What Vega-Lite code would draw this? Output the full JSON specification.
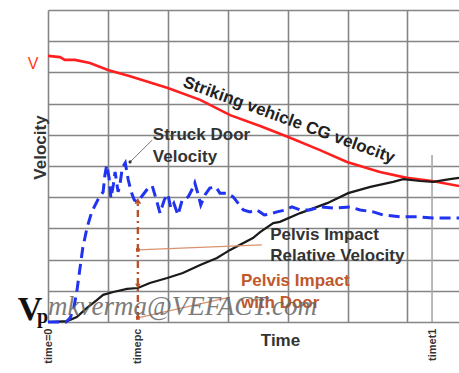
{
  "$schema": "https://vega.github.io/schema/vega-lite/v6.json",
  "width": 411,
  "height": 312,
  "autosize": {"type": "none"},
  "padding": {"left": 48, "top": 10, "right": 0, "bottom": 51},
  "background": "white",
  "config": {"view": {"stroke": null}},
  "datasets": {
    "curves": [
      {"s": "red", "t": 0, "v": 8.53}, {"s": "red", "t": 0.2, "v": 8.49}, {"s": "red", "t": 0.28, "v": 8.4}, {"s": "red", "t": 0.45, "v": 8.4}, {"s": "red", "t": 0.7, "v": 8.3}, {"s": "red", "t": 1.0, "v": 8.08}, {"s": "red", "t": 1.37, "v": 7.88}, {"s": "red", "t": 2.0, "v": 7.5}, {"s": "red", "t": 2.54, "v": 7.12}, {"s": "red", "t": 3.04, "v": 6.63}, {"s": "red", "t": 3.54, "v": 6.28}, {"s": "red", "t": 4.01, "v": 5.93}, {"s": "red", "t": 4.54, "v": 5.51}, {"s": "red", "t": 4.99, "v": 5.13}, {"s": "red", "t": 5.54, "v": 4.81}, {"s": "red", "t": 5.99, "v": 4.62}, {"s": "red", "t": 6.41, "v": 4.52}, {"s": "red", "t": 6.86, "v": 4.36},
      {"s": "black", "t": 0, "v": 0}, {"s": "black", "t": 0.32, "v": 0.03}, {"s": "black", "t": 0.48, "v": 0.16}, {"s": "black", "t": 0.65, "v": 0.45}, {"s": "black", "t": 0.82, "v": 0.71}, {"s": "black", "t": 0.92, "v": 0.87}, {"s": "black", "t": 1.09, "v": 0.96}, {"s": "black", "t": 1.32, "v": 1.06}, {"s": "black", "t": 1.5, "v": 1.09}, {"s": "black", "t": 1.7, "v": 1.25}, {"s": "black", "t": 1.99, "v": 1.41}, {"s": "black", "t": 2.25, "v": 1.57}, {"s": "black", "t": 2.54, "v": 1.83}, {"s": "black", "t": 2.82, "v": 2.05}, {"s": "black", "t": 3.04, "v": 2.31}, {"s": "black", "t": 3.42, "v": 2.69}, {"s": "black", "t": 3.54, "v": 2.88}, {"s": "black", "t": 3.76, "v": 3.17}, {"s": "black", "t": 3.87, "v": 3.21}, {"s": "black", "t": 4.21, "v": 3.49}, {"s": "black", "t": 4.66, "v": 3.81}, {"s": "black", "t": 5.01, "v": 4.13}, {"s": "black", "t": 5.38, "v": 4.33}, {"s": "black", "t": 5.76, "v": 4.49}, {"s": "black", "t": 5.93, "v": 4.58}, {"s": "black", "t": 6.21, "v": 4.52}, {"s": "black", "t": 6.43, "v": 4.49}, {"s": "black", "t": 6.71, "v": 4.58}, {"s": "black", "t": 6.86, "v": 4.62},
      {"s": "blue", "t": 0, "v": 0}, {"s": "blue", "t": 0.3, "v": 0}, {"s": "blue", "t": 0.37, "v": 0.13}, {"s": "blue", "t": 0.43, "v": 0.45}, {"s": "blue", "t": 0.48, "v": 0.96}, {"s": "blue", "t": 0.53, "v": 1.67}, {"s": "blue", "t": 0.58, "v": 2.37}, {"s": "blue", "t": 0.65, "v": 3.01}, {"s": "blue", "t": 0.73, "v": 3.53}, {"s": "blue", "t": 0.83, "v": 3.91}, {"s": "blue", "t": 0.92, "v": 4.17}, {"s": "blue", "t": 0.95, "v": 4.71}, {"s": "blue", "t": 0.98, "v": 5.03}, {"s": "blue", "t": 1.02, "v": 4.62}, {"s": "blue", "t": 1.05, "v": 3.97}, {"s": "blue", "t": 1.09, "v": 4.39}, {"s": "blue", "t": 1.12, "v": 4.81}, {"s": "blue", "t": 1.17, "v": 4.17}, {"s": "blue", "t": 1.2, "v": 4.39}, {"s": "blue", "t": 1.24, "v": 4.94}, {"s": "blue", "t": 1.29, "v": 5.1}, {"s": "blue", "t": 1.34, "v": 4.55}, {"s": "blue", "t": 1.39, "v": 4.17}, {"s": "blue", "t": 1.44, "v": 3.91}, {"s": "blue", "t": 1.49, "v": 3.85}, {"s": "blue", "t": 1.57, "v": 4.04}, {"s": "blue", "t": 1.67, "v": 4.29}, {"s": "blue", "t": 1.74, "v": 4.36}, {"s": "blue", "t": 1.8, "v": 3.97}, {"s": "blue", "t": 1.87, "v": 3.49}, {"s": "blue", "t": 1.94, "v": 3.91}, {"s": "blue", "t": 2.0, "v": 4.1}, {"s": "blue", "t": 2.05, "v": 3.65}, {"s": "blue", "t": 2.1, "v": 3.81}, {"s": "blue", "t": 2.17, "v": 3.43}, {"s": "blue", "t": 2.24, "v": 3.91}, {"s": "blue", "t": 2.34, "v": 4.01}, {"s": "blue", "t": 2.4, "v": 4.23}, {"s": "blue", "t": 2.45, "v": 4.46}, {"s": "blue", "t": 2.5, "v": 4.13}, {"s": "blue", "t": 2.55, "v": 3.75}, {"s": "blue", "t": 2.62, "v": 4.07}, {"s": "blue", "t": 2.7, "v": 4.29}, {"s": "blue", "t": 2.8, "v": 4.33}, {"s": "blue", "t": 2.87, "v": 4.13}, {"s": "blue", "t": 2.99, "v": 4.13}, {"s": "blue", "t": 3.09, "v": 4.01}, {"s": "blue", "t": 3.26, "v": 3.59}, {"s": "blue", "t": 3.37, "v": 3.53}, {"s": "blue", "t": 3.49, "v": 3.59}, {"s": "blue", "t": 3.61, "v": 3.43}, {"s": "blue", "t": 3.71, "v": 3.46}, {"s": "blue", "t": 3.82, "v": 3.53}, {"s": "blue", "t": 3.96, "v": 3.59}, {"s": "blue", "t": 4.07, "v": 3.69}, {"s": "blue", "t": 4.21, "v": 3.59}, {"s": "blue", "t": 4.37, "v": 3.59}, {"s": "blue", "t": 4.54, "v": 3.69}, {"s": "blue", "t": 4.76, "v": 3.65}, {"s": "blue", "t": 5.04, "v": 3.69}, {"s": "blue", "t": 5.21, "v": 3.59}, {"s": "blue", "t": 5.43, "v": 3.53}, {"s": "blue", "t": 5.59, "v": 3.43}, {"s": "blue", "t": 5.88, "v": 3.37}, {"s": "blue", "t": 6.16, "v": 3.37}, {"s": "blue", "t": 6.43, "v": 3.33}, {"s": "blue", "t": 6.66, "v": 3.33}, {"s": "blue", "t": 6.86, "v": 3.33}
    ],
    "rules": [
      {"k": "pc", "t": 1.5, "v": 0.1, "v2": 3.85},
      {"k": "t1", "t": 6.41, "v": 0, "v2": 5.35}
    ],
    "pointers": [
      {"id": "door", "c": "gray", "t": 1.37, "v": 5.13}, {"id": "door", "c": "gray", "t": 1.74, "v": 5.83},
      {"id": "rel", "c": "brown", "t": 1.5, "v": 2.31}, {"id": "rel", "c": "brown", "t": 3.57, "v": 2.47},
      {"id": "door2", "c": "brown", "t": 1.5, "v": 0.13}, {"id": "door2", "c": "brown", "t": 3.04, "v": 0.8}
    ],
    "marks": [
      {"k": "up", "t": 1.5, "v": 3.88},
      {"k": "dn", "t": 1.5, "v": 1.15},
      {"k": "bar", "t": 1.5, "v": 2.31},
      {"k": "bar", "t": 1.5, "v": 0.13},
      {"k": "dot", "t": 1.37, "v": 5.13}
    ],
    "dark": [
      {"label": "Struck Door", "t": 1.75, "v": 6.0},
      {"label": "Velocity", "t": 1.75, "v": 5.29},
      {"label": "Pelvis Impact", "t": 3.71, "v": 2.79},
      {"label": "Relative Velocity", "t": 3.71, "v": 2.1}
    ],
    "brown": [
      {"label": "Pelvis Impact", "t": 3.22, "v": 1.31},
      {"label": "with Door", "t": 3.22, "v": 0.61}
    ],
    "slanted": [
      {"label": "Striking vehicle CG velocity", "t": 4.02, "v": 6.47}
    ],
    "wm": [
      {"label": "mkverma@VEFACT.com", "t": 0.0, "v": 0.22}
    ],
    "vbig": [
      {"label": "V", "t": -0.3, "v": 0.06}
    ],
    "psub": [
      {"label": "p", "t": -0.09, "v": -0.03}
    ]
  },
  "encoding": {
    "x": {
      "field": "t", "type": "quantitative",
      "scale": {"domain": [0, 6.86], "nice": false, "zero": false},
      "axis": {
        "values": [0, 1, 1.5, 2, 3, 4, 5, 6, 6.41],
        "grid": true, "gridColor": "#858585", "gridWidth": 1.6,
        "gridOpacity": {"condition": {"test": "datum.value == 1.5 || datum.value == 6.41", "value": 0}, "value": 1},
        "domain": false, "ticks": false, "tickSize": 0,
        "labelExpr": "datum.value == 0 ? 'time=0' : datum.value == 1.5 ? 'timepc' : datum.value == 6.41 ? 'timet1' : ''",
        "labelAngle": 270, "labelAlign": "right", "labelBaseline": "middle", "labelPadding": 6,
        "labelFont": "Liberation Sans", "labelFontWeight": "bold", "labelFontSize": 11, "labelColor": "#333333",
        "labelOverlap": false, "labelFlush": false,
        "title": "Time", "titleFont": "Liberation Sans", "titleFontSize": 17, "titleFontWeight": "bold", "titleColor": "#333333",
        "titleX": 232, "titleY": 18, "titleBaseline": "middle", "titleAlign": "center"
      }
    },
    "y": {
      "field": "v", "type": "quantitative",
      "scale": {"domain": [0, 10], "nice": false, "zero": false},
      "axis": {
        "values": [0, 1, 2, 3, 4, 5, 6, 7, 8, 8.27, 9, 10],
        "grid": true, "gridColor": "#858585", "gridWidth": 1.6,
        "gridOpacity": {"condition": {"test": "datum.value == 8.27", "value": 0}, "value": 1},
        "domain": false, "ticks": false, "tickSize": 0,
        "labelExpr": "datum.value == 8.27 ? 'V' : ''",
        "labelFont": "Liberation Sans", "labelFontSize": 16, "labelColor": "#ff3a1a", "labelPadding": 10,
        "labelOverlap": false, "labelFlush": false,
        "title": "Velocity", "titleFont": "Liberation Sans", "titleFontSize": 17, "titleFontWeight": "bold", "titleColor": "#333333",
        "titleX": -8, "titleY": 137, "titleAngle": 270, "titleBaseline": "middle", "titleAlign": "center"
      }
    }
  },
  "layer": [
    {
      "data": {"name": "rules"},
      "transform": [{"filter": "datum.k == 't1'"}],
      "mark": {"type": "rule", "color": "#a8a8a8", "strokeWidth": 1.6},
      "encoding": {"y2": {"field": "v2"}}
    },
    {
      "data": {"name": "curves"},
      "transform": [{"filter": "datum.s == 'red'"}],
      "mark": {"type": "line", "color": "#ff1f1f", "strokeWidth": 2.6},
      "encoding": {}
    },
    {
      "data": {"name": "curves"},
      "transform": [{"filter": "datum.s == 'black'"}],
      "mark": {"type": "line", "color": "#1a1a1a", "strokeWidth": 2.2},
      "encoding": {}
    },
    {
      "data": {"name": "curves"},
      "transform": [{"filter": "datum.s == 'blue'"}],
      "mark": {"type": "line", "color": "#1f33f0", "strokeWidth": 3, "strokeDash": [11, 6]},
      "encoding": {}
    },
    {
      "data": {"name": "pointers"},
      "transform": [{"filter": "datum.c == 'brown'"}],
      "mark": {"type": "line", "color": "#d9926e", "strokeWidth": 1.3},
      "encoding": {"detail": {"field": "id"}}
    },
    {
      "data": {"name": "pointers"},
      "transform": [{"filter": "datum.c == 'gray'"}],
      "mark": {"type": "line", "color": "#777777", "strokeWidth": 1},
      "encoding": {"detail": {"field": "id"}}
    },
    {
      "data": {"name": "rules"},
      "transform": [{"filter": "datum.k == 'pc'"}],
      "mark": {"type": "rule", "color": "#b8522a", "strokeWidth": 2.4, "strokeDash": [7, 4, 2, 4]},
      "encoding": {"y2": {"field": "v2"}}
    },
    {
      "data": {"name": "marks"},
      "transform": [{"filter": "datum.k == 'up'"}],
      "mark": {"type": "point", "shape": "triangle-up", "filled": true, "color": "#b8522a", "size": 45, "opacity": 1},
      "encoding": {}
    },
    {
      "data": {"name": "marks"},
      "transform": [{"filter": "datum.k == 'dn'"}],
      "mark": {"type": "point", "shape": "triangle-down", "filled": true, "color": "#b8522a", "size": 30, "opacity": 1},
      "encoding": {}
    },
    {
      "data": {"name": "marks"},
      "transform": [{"filter": "datum.k == 'bar'"}],
      "mark": {"type": "point", "shape": "square", "filled": true, "color": "#b8522a", "size": 14, "opacity": 1},
      "encoding": {}
    },
    {
      "data": {"name": "marks"},
      "transform": [{"filter": "datum.k == 'dot'"}],
      "mark": {"type": "point", "shape": "circle", "filled": true, "color": "#333333", "size": 10, "opacity": 1},
      "encoding": {}
    },
    {
      "data": {"name": "dark"},
      "mark": {"type": "text", "align": "left", "baseline": "middle", "font": "Liberation Sans", "fontSize": 17, "fontWeight": "bold", "color": "#333333"},
      "encoding": {"text": {"field": "label"}}
    },
    {
      "data": {"name": "brown"},
      "mark": {"type": "text", "align": "left", "baseline": "middle", "font": "Liberation Sans", "fontSize": 17, "fontWeight": "bold", "color": "#c0582c"},
      "encoding": {"text": {"field": "label"}}
    },
    {
      "data": {"name": "slanted"},
      "mark": {"type": "text", "align": "center", "baseline": "middle", "angle": 20, "font": "Liberation Sans", "fontSize": 17, "fontWeight": "bold", "color": "#222222"},
      "encoding": {"text": {"field": "label"}}
    },
    {
      "data": {"name": "wm"},
      "mark": {"type": "text", "align": "left", "baseline": "alphabetic", "font": "Liberation Serif", "fontSize": 27, "fontStyle": "italic", "color": "#666666", "opacity": 0.85},
      "encoding": {"text": {"field": "label"}}
    },
    {
      "data": {"name": "vbig"},
      "mark": {"type": "text", "align": "center", "baseline": "alphabetic", "font": "Liberation Serif", "fontSize": 34, "fontWeight": "bold", "color": "#111111"},
      "encoding": {"text": {"field": "label"}}
    },
    {
      "data": {"name": "psub"},
      "mark": {"type": "text", "align": "center", "baseline": "alphabetic", "font": "Liberation Serif", "fontSize": 20, "fontWeight": "bold", "color": "#111111"},
      "encoding": {"text": {"field": "label"}}
    }
  ]
}
